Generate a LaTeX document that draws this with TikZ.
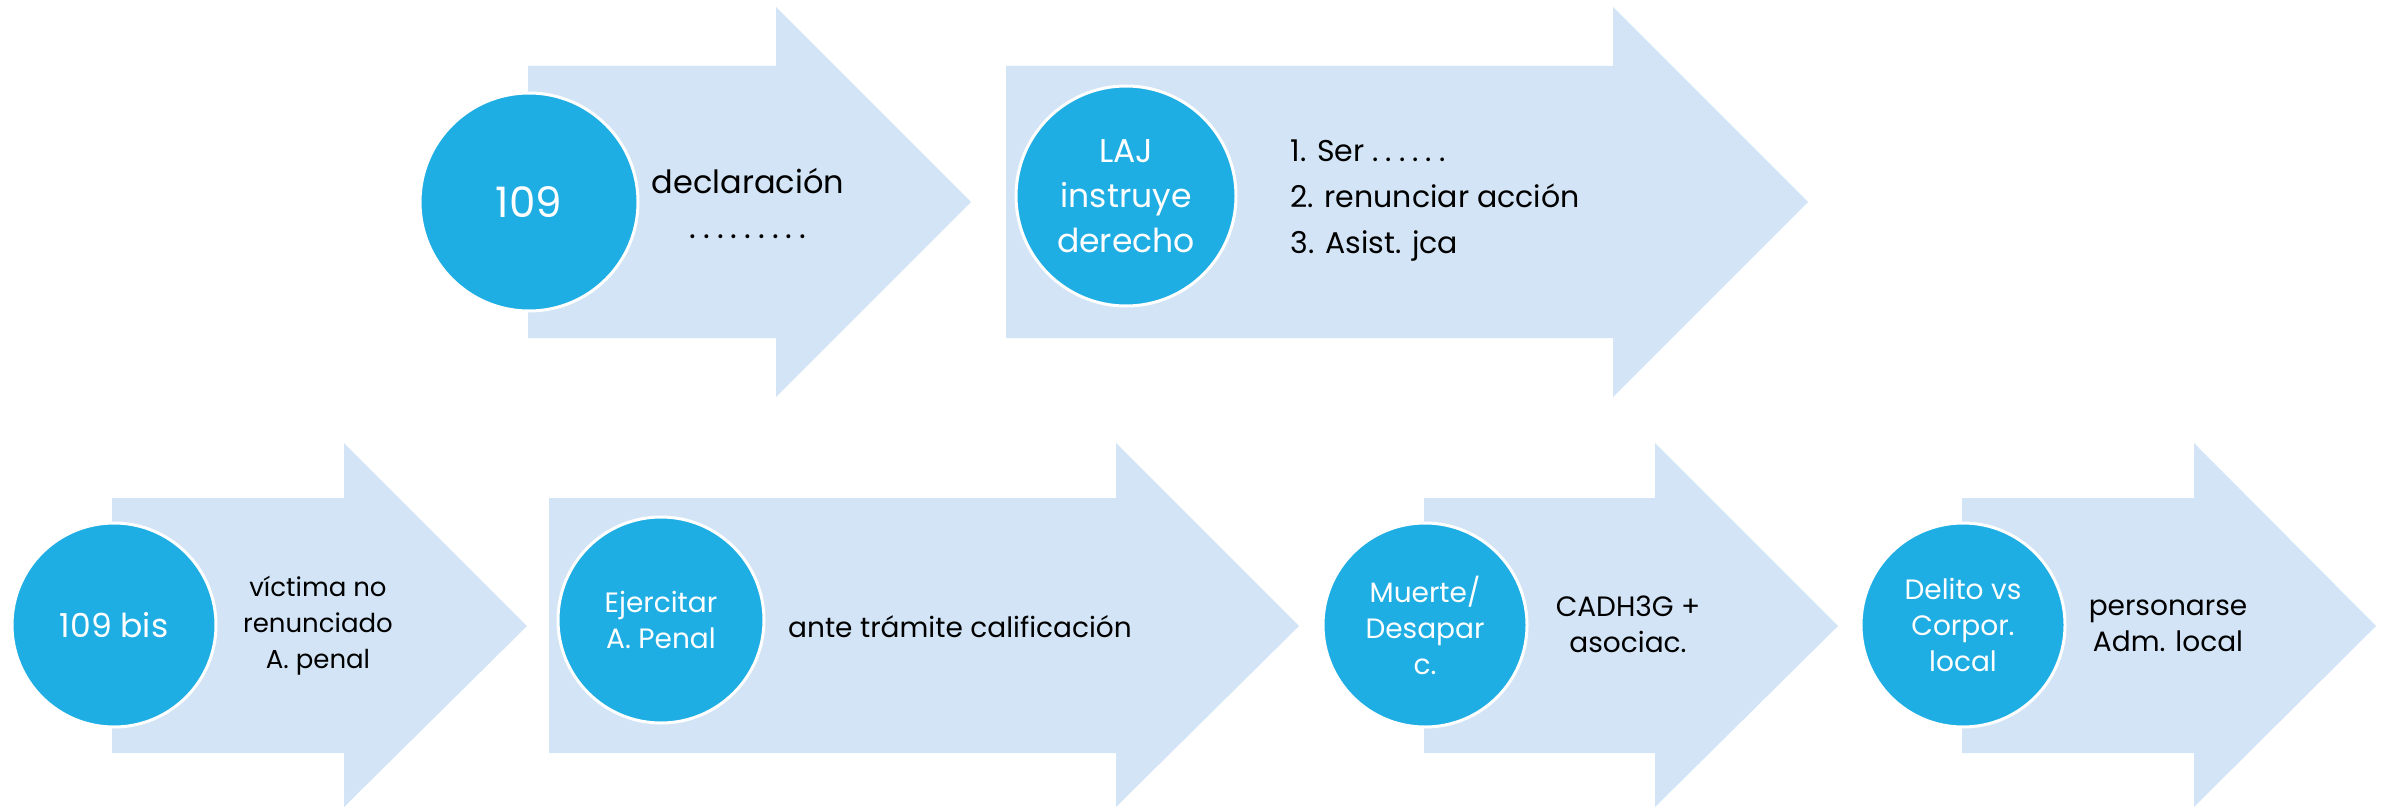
\documentclass[tikz,border=0pt]{standalone}
\usepackage{fontspec}
\setmainfont{Poppins}
\definecolor{arrowblue}{RGB}{210,228,245}
\definecolor{circleblue}{RGB}{31,174,227}
\newcommand{\dotsrow}[1]{\foreach \i in {1,...,#1}{.\kern7pt}\kern-7pt}

\begin{document}
\begin{tikzpicture}[x=1pt, y=-1pt,
    bigarrow/.style={fill=arrowblue},
    stepcircle/.style={circle, fill=circleblue, draw=white, line width=3pt, text=white, align=center, inner sep=0pt},
    bigfont/.style={font=\fontsize{32}{45}\selectfont},
    smallfont/.style={font=\fontsize{28}{36}\selectfont}]
    \useasboundingbox (0,0) rectangle (2389,808);

    % Top row arrows
    \fill[bigarrow] (528,66) -- (776,66) -- (776,7) -- (971,202) -- (776,397) -- (776,338) -- (528,338) -- cycle;
    \fill[bigarrow] (1006,66) -- (1613,66) -- (1613,7) -- (1808,202) -- (1613,397) -- (1613,338) -- (1006,338) -- cycle;

    % Bottom row arrows
    \fill[bigarrow] (112,498) -- (344,498) -- (344,443) -- (527,626) -- (344,807) -- (344,753) -- (112,753) -- cycle;
    \fill[bigarrow] (549,498) -- (1116,498) -- (1116,443) -- (1299,626) -- (1116,807) -- (1116,753) -- (549,753) -- cycle;
    \fill[bigarrow] (1424,498) -- (1655,498) -- (1655,443) -- (1838,626) -- (1655,807) -- (1655,753) -- (1424,753) -- cycle;
    \fill[bigarrow] (1962,498) -- (2194,498) -- (2194,443) -- (2376,626) -- (2194,807) -- (2194,753) -- (1962,753) -- cycle;

    % Circles
    \node [stepcircle, minimum size=218pt, font=\fontsize{42}{50}\selectfont] (art109) at (529,202) {109};
    \node [stepcircle, font=\fontsize{33}{45}\selectfont, minimum size=220pt] (laj) at (1126,196) {LAJ\\instruye\\derecho};
    \node [stepcircle, font=\fontsize{33}{45}\selectfont, minimum size=204pt] (art109bis) at (114,625) {109 bis};
    \node [stepcircle, smallfont, minimum size=206pt] (ejercitar) at (661,620) {Ejercitar\\A. Penal};
    \node [stepcircle, smallfont, minimum size=204pt] (muerte) at (1425,625) {Muerte/\\Desapar\\c.};
    \node [stepcircle, smallfont, minimum size=204pt] (delito) at (1963,625) {Delito vs\\Corpor.\\local};

    % Texts
    \node [bigfont, align=center] (declaracion) at (748,203) {declaración\\\dotsrow{9}};
    \node [font=\fontsize{30}{46}\selectfont, align=left, anchor=west] (derechos) at (1287,201) {1. Ser \dotsrow{6}\\2. renunciar acción\\3. Asist. jca};
    \node [font=\fontsize{26}{36}\selectfont, align=center] (victima) at (318,626) {víctima no\\renunciado\\A. penal};
    \node [smallfont, align=center] (tramite) at (960,627) {ante trámite calificación};
    \node [smallfont, align=center] (cadh) at (1628,624) {CADH3G +\\asociac.};
    \node [smallfont, align=center] (personarse) at (2168,626) {personarse\\Adm. local};
\end{tikzpicture}
\end{document}
